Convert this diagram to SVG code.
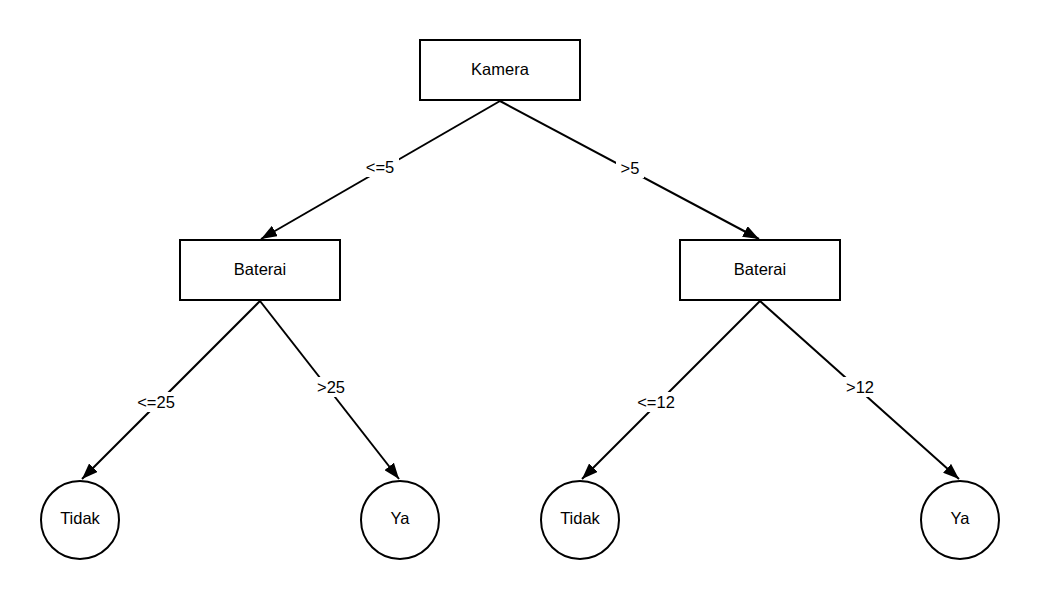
<svg xmlns="http://www.w3.org/2000/svg" width="1040" height="600" viewBox="0 0 1040 600">
  <style>
    .box { fill: #ffffff; stroke: #000000; stroke-width: 2; }
    .txt { font-family: "Liberation Sans", Arial, sans-serif; font-size: 16.5px; fill: #000000; text-anchor: middle; dominant-baseline: central; }
    .edge { stroke: #000000; stroke-width: 2; fill: none; marker-end: url(#arrow); }
    .lbl-bg { fill: #ffffff; }
  </style>
  <defs>
    <marker id="arrow" viewBox="0 0 16 12" refX="16" refY="6" markerWidth="16" markerHeight="12" markerUnits="userSpaceOnUse" orient="auto">
      <path d="M0,0 L16,6 L0,12 z" fill="#000000"/>
    </marker>
  </defs>
  <rect width="1040" height="600" fill="#ffffff"/>

  <!-- connectors -->
  <g id="connectors">
    <line class="edge" x1="500" y1="101" x2="261" y2="239"/>
    <line class="edge" x1="500" y1="101" x2="759" y2="239"/>
    <line class="edge" x1="260" y1="301" x2="82" y2="479"/>
    <line class="edge" x1="260" y1="301" x2="399" y2="479"/>
    <line class="edge" x1="760" y1="301" x2="582" y2="479"/>
    <line class="edge" x1="760" y1="301" x2="959" y2="479"/>

    <rect class="lbl-bg" x="361" y="157" width="38" height="20"/>
    <text class="txt" x="380" y="167">&lt;=5</text>
    <rect class="lbl-bg" x="616" y="158" width="28" height="20"/>
    <text class="txt" x="630" y="168">&gt;5</text>
    <rect class="lbl-bg" x="132" y="392" width="48" height="20"/>
    <text class="txt" x="156" y="402">&lt;=25</text>
    <rect class="lbl-bg" x="311" y="377" width="40" height="20"/>
    <text class="txt" x="331" y="387">&gt;25</text>
    <rect class="lbl-bg" x="632" y="392" width="48" height="20"/>
    <text class="txt" x="656" y="402">&lt;=12</text>
    <rect class="lbl-bg" x="840" y="377" width="40" height="20"/>
    <text class="txt" x="860" y="387">&gt;12</text>
  </g>

  <!-- nodes -->
  <g id="kamera">
    <rect class="box" x="420" y="40" width="160" height="60"/>
    <text class="txt" x="500" y="69">Kamera</text>
  </g>
  <g id="baterai-kiri">
    <rect class="box" x="180" y="240" width="160" height="60"/>
    <text class="txt" x="260" y="269">Baterai</text>
  </g>
  <g id="baterai-kanan">
    <rect class="box" x="680" y="240" width="160" height="60"/>
    <text class="txt" x="760" y="269">Baterai</text>
  </g>
  <g id="tidak-1">
    <circle class="box" cx="80" cy="520" r="39"/>
    <text class="txt" x="80" y="518">Tidak</text>
  </g>
  <g id="ya-1">
    <circle class="box" cx="400" cy="520" r="39"/>
    <text class="txt" x="400" y="518">Ya</text>
  </g>
  <g id="tidak-2">
    <circle class="box" cx="580" cy="520" r="39"/>
    <text class="txt" x="580" y="518">Tidak</text>
  </g>
  <g id="ya-2">
    <circle class="box" cx="960" cy="520" r="39"/>
    <text class="txt" x="960" y="518">Ya</text>
  </g>
</svg>
